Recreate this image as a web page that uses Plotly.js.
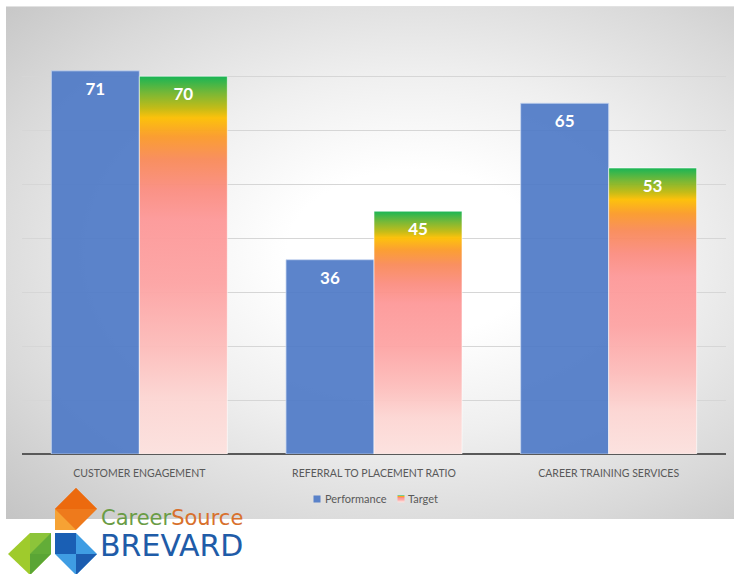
<!DOCTYPE html>
<html>
<head>
<meta charset="utf-8">
<script src="https://cdn.plot.ly/plotly-3.0.1.min.js"></script>
<style>
  html, body { margin:0; padding:0; background:#ffffff; }
  #wrap { position:relative; width:734px; height:574px; overflow:hidden; }
  #bg { position:absolute; left:6px; top:6px; width:728px; height:512px;
        border-top:1px solid #e2e2e2;
        background: radial-gradient(ellipse farthest-corner at 56% 48%, #ffffff 0%, #ffffff 22%, #efefef 48%, #d9d9d9 76%, #c4c4c4 100%); }
  #chart { position:absolute; left:0; top:0; width:734px; height:574px; }
</style>
</head>
<body>
<div id="wrap">
  <div id="bg"></div>
  <div id="chart"></div>
</div>
<script>
// ---- data ----
const categories = ['CUSTOMER ENGAGEMENT', 'REFERRAL TO PLACEMENT RATIO', 'CAREER TRAINING SERVICES'];
const performance = [71, 36, 65];
const target = [70, 45, 53];
const seriesNames = ['Performance', 'Target'];

// ---- helpers for paper-positioned decorations ----
const L = 22, R = 8, T = 22, B = 120, W = 734, H = 574;
const pw = W - L - R, ph = H - T - B;
function px(x) { return (x - L) / pw; }
function py(y) { return (H - B - y) / ph; }
function poly(pts, color) {
  const d = pts.map((p, i) => (i ? 'L' : 'M') + px(p[0]).toFixed(5) + ',' + py(p[1]).toFixed(5)).join(' ') + ' Z';
  return { type: 'path', xref: 'paper', yref: 'paper', path: d, fillcolor: color, line: { width: 0 }, layer: 'above' };
}

const logoShapes = [
  // orange
  poly([[76,488],[97,509],[76,530],[55,530],[55,509]], '#ee7a1c'),
  poly([[76,488],[97,509],[55,509]], '#ec6a0e'),
  poly([[55,509],[55,530],[76,530]], '#f6a234'),
  // green
  poly([[8,554],[30,533],[51,533],[51,554],[30,575]], '#9fcb2c'),
  poly([[30,533],[51,533],[51,554],[30,554]], '#63ad38'),
  poly([[30,533],[51,533],[30,554]], '#8cc43a'),
  poly([[30,554],[51,554],[30,575]], '#5aa535'),
  // blue
  poly([[55,533],[76,533],[97,554],[76,575],[55,554]], '#3f9de3'),
  poly([[55,533],[76,533],[76,554],[55,554]], '#1a5fb4'),
  poly([[76,554],[97,554],[76,575]], '#1c5db0'),
];

const traces = [
  {
    type: 'bar', name: seriesNames[0], x: categories, y: performance,
    text: performance.map(String), textposition: 'inside', insidetextanchor: 'end',
    textangle: 0,
    textfont: { family: 'Lato', size: 17, color: '#ffffff', weight: 'bold' },
    marker: { color: 'rgba(78,121,199,0.92)', line: { color: 'rgba(200,215,240,0.8)', width: 1 } },
    hoverinfo: 'none'
  },
  {
    type: 'bar', name: seriesNames[1], x: categories, y: target,
    text: target.map(String), textposition: 'inside', insidetextanchor: 'end',
    textangle: 0,
    textfont: { family: 'Lato', size: 17, color: '#ffffff', weight: 'bold' },
    marker: { color: '#fd9a9a', line: { color: 'rgba(255,255,255,0.6)', width: 1 } },
    hoverinfo: 'none'
  }
];

const layout = {
  width: W, height: H,
  margin: { l: L, r: R, t: T, b: B, pad: 0 },
  paper_bgcolor: 'rgba(0,0,0,0)',
  plot_bgcolor: 'rgba(0,0,0,0)',
  barmode: 'group', bargap: 0.25, bargroupgap: 0,
  font: { family: 'Lato', color: '#595959', size: 11 },
  xaxis: {
    type: 'category', showgrid: false, showline: false, ticks: '',
    tickfont: { family: 'Lato', size: 10.5, color: '#595959' },
    ticklabelstandoff: 11
  },
  yaxis: {
    range: [0, 80.05], dtick: 10, tick0: 0, showticklabels: false, ticks: '',
    showgrid: true, gridcolor: '#d6d6d6', gridwidth: 1,
    zeroline: true, zerolinecolor: '#595959', zerolinewidth: 2, showline: false
  },
  showlegend: true,
  legend: {
    orientation: 'h', x: 0.5, xanchor: 'center', y: py(499), yanchor: 'middle',
    font: { family: 'Lato', size: 11, color: '#595959' },
    bgcolor: 'rgba(0,0,0,0)', itemwidth: 30, traceorder: 'normal'
  },
  shapes: logoShapes,
  annotations: [
    {
      xref: 'paper', yref: 'paper', x: px(99), y: py(518), xanchor: 'left', yanchor: 'middle',
      showarrow: false,
      text: '<span style="color:#6a9c45">Career</span><span style="color:#d8702c">Source</span>',
      font: { family: 'DejaVu Sans', size: 21 }
    },
    {
      xref: 'paper', yref: 'paper', x: px(98), y: py(545), xanchor: 'left', yanchor: 'middle',
      showarrow: false, text: 'BREVARD',
      font: { family: 'DejaVu Sans', size: 30, color: '#1f5ca8' }
    }
  ]
};

// legend positions (marker centre, text start)
const legendMarkerX = [317, 401];
const legendTextX = [325, 408];

Plotly.newPlot('chart', traces, layout, { staticPlot: true, displayModeBar: false }).then(function (gd) {
  const svgs = gd.querySelectorAll('svg.main-svg');
  const ns = 'http://www.w3.org/2000/svg';
  let defs = svgs[0].querySelector('defs');
  if (!defs) { defs = document.createElementNS(ns, 'defs'); svgs[0].insertBefore(defs, svgs[0].firstChild); }
  const lg = document.createElementNS(ns, 'linearGradient');
  lg.setAttribute('id', 'tgrad');
  lg.setAttribute('x1', '0'); lg.setAttribute('y1', '0'); lg.setAttribute('x2', '0'); lg.setAttribute('y2', '1');
  const stops = [
    [0, '#0db24e'], [0.045, '#73b52c'], [0.085, '#c2b90c'], [0.11, '#fdbf00'],
    [0.16, '#fb9a28'], [0.22, '#f98a58'], [0.30, '#fb8d80'], [0.38, '#fd9898'],
    [0.55, '#fda3a3'], [0.72, '#fdbdbb'], [0.85, '#fdd6d3'], [1, '#fde2df']
  ];
  stops.forEach(function (s) {
    const st = document.createElementNS(ns, 'stop');
    st.setAttribute('offset', s[0]);
    st.setAttribute('stop-color', s[1]);
    lg.appendChild(st);
  });
  defs.appendChild(lg);

  const barTraces = gd.querySelectorAll('.barlayer .trace.bars');
  if (barTraces[1]) {
    barTraces[1].querySelectorAll('path').forEach(function (p) { p.style.fill = 'url(#tgrad)'; p.style.fillOpacity = 0.95; });
  }
  gd.querySelectorAll('.barlayer text.bartext').forEach(function (t) {
    const tr = t.getAttribute('transform') || '';
    t.setAttribute('transform', 'translate(0,4) ' + tr);
  });

  // tighten legend like the reference
  const legTraces = gd.querySelectorAll('.legend .traces');
  legTraces.forEach(function (g, i) {
    const txt = g.querySelector('text.legendtext');
    const m = /translate\(\s*([-\d.]+)[ ,]+([-\d.]+)\s*\)/.exec(g.getAttribute('transform') || '');
    if (!txt || !m) return;
    const rect = txt.getBoundingClientRect();
    const dx = legendTextX[i] - rect.left;
    g.setAttribute('transform', 'translate(' + (parseFloat(m[1]) + dx) + ',' + m[2] + ')');
    const tx = parseFloat(txt.getAttribute('x')) || 40;
    g.querySelectorAll('.legendpoints path').forEach(function (p) {
      p.setAttribute('transform', 'translate(' + (tx - (legendTextX[i] - legendMarkerX[i])) + ',0)');
      p.setAttribute('d', 'M3.5,3.5H-3.5V-3.5H3.5Z');
      if (i === 1) p.style.fill = 'url(#tgrad)';
      p.style.strokeWidth = '0';
    });
  });
});
</script>
</body>
</html>
